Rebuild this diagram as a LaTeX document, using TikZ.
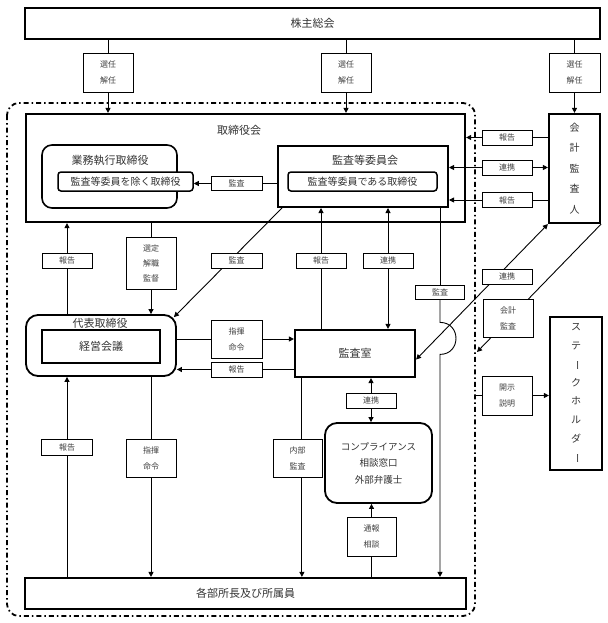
\documentclass[tikz,border=0pt]{standalone}
\usepackage{fontspec}
\setmainfont{Noto Sans CJK JP}
\usepackage{graphicx}
\usetikzlibrary{arrows.meta,calc}
\begin{document}
\begin{tikzpicture}[x=1pt,y=-1pt,
 every node/.style={text=black!80},
 arr/.style={-{Triangle[length=5pt,width=5pt]},line width=0.9pt},
 darr/.style={{Triangle[length=5pt,width=5pt]}-{Triangle[length=5pt,width=5pt]},line width=0.9pt},
 ln/.style={line width=0.9pt},
 bigbox/.style={draw,line width=2.2pt,inner sep=0pt},
 rbox/.style={draw,line width=1.8pt,rounded corners=12pt,inner sep=0pt},
 lbl/.style={draw,fill=white,line width=0.8pt,inner sep=0pt,align=center,font=\fontsize{8}{16}\selectfont,text=black!75},
 txt/.style={inner sep=0pt,font=\fontsize{11}{13}\selectfont},
 boundary/.style={line width=1.8pt,dash pattern=on 5pt off 3pt on 1.5pt off 3pt,rounded corners=12pt}
]
\useasboundingbox (0,0) rectangle (607,623);
\fill[white] (0,0) rectangle (607,623);

% company boundary
\draw[boundary] (7,103) rectangle (475,616);

% main boxes
\node[bigbox,minimum width=575pt,minimum height=31pt,font=\fontsize{11}{13}\selectfont] (soukai) at (312.5,23.5) {株主総会};

\node[bigbox,minimum width=439pt,minimum height=108pt] (tori) at (245.5,168) {};
\node[txt] (toriT) at (239,130) {取締役会};

\node[rbox,line width=1.6pt,rounded corners=10pt,minimum width=135pt,minimum height=63pt] (gyomu) at (109.5,176.5) {};
\node[txt] (gyomuT) at (110,160) {業務執行取締役};
\node[draw,line width=1.5pt,rounded corners=3pt,fill=white,minimum width=135pt,minimum height=19pt,inner sep=0pt,font=\fontsize{10}{12}\selectfont] (jogai) at (125.5,181.5) {監査等委員を除く取締役};

\node[bigbox,line width=2pt,minimum width=170pt,minimum height=61pt] (iinkai) at (363,176.5) {};
\node[txt] (iinkaiT) at (365,160) {監査等委員会};
\node[draw,line width=1.5pt,rounded corners=3pt,minimum width=149pt,minimum height=19pt,inner sep=0pt,font=\fontsize{10}{12}\selectfont] (iin) at (362.5,181.5) {監査等委員である取締役};

\node[bigbox,minimum width=51pt,minimum height=109pt,align=center,font=\fontsize{10}{20.5}\selectfont] (kaikei) at (574.5,168.5) {会\\計\\監\\査\\人};

\node[rbox,minimum width=150pt,minimum height=61pt] (daihyo) at (101,345.5) {};
\node[txt] (daihyoT) at (100,323) {代表取締役};
\node[bigbox,minimum width=118pt,minimum height=33pt,font=\fontsize{11}{13}\selectfont] (keiei) at (101,346.5) {経営会議};

\node[bigbox,minimum width=120pt,minimum height=47pt,font=\fontsize{11}{13}\selectfont] (shitsu) at (355,353.5) {監査室};

\node[rbox,minimum width=107pt,minimum height=80pt,align=center,font=\fontsize{9.5}{16.5}\selectfont] (comp) at (378.5,463) {コンプライアンス\\相談窓口\\外部弁護士};

\node[bigbox,minimum width=52pt,minimum height=153pt,align=center,font=\fontsize{10}{18.6}\selectfont] (stake) at (576,393.5) {ス\\テ\\\rotatebox[origin=c]{-90}{ー}\\ク\\ホ\\ル\\ダ\\\rotatebox[origin=c]{-90}{ー}};

\node[bigbox,minimum width=441pt,minimum height=31pt,font=\fontsize{11}{13}\selectfont] (kakubu) at (245.5,593.5) {各部所長及び所属員};

% 選任・解任
\node[lbl,minimum width=50pt,minimum height=39pt] (sen1) at (108,72.5) {選任\\解任};
\node[lbl,minimum width=50pt,minimum height=39pt] (sen2) at (346,72.5) {選任\\解任};
\node[lbl,minimum width=51pt,minimum height=39pt] (sen3) at (574.5,72.5) {選任\\解任};
\draw[ln] (sen1 |- soukai.south) -- (sen1.north);
\draw[arr] (sen1.south) -- (sen1 |- tori.north);
\draw[ln] (sen2 |- soukai.south) -- (sen2.north);
\draw[arr] (sen2.south) -- (sen2 |- tori.north);
\draw[ln] (sen3 |- soukai.south) -- (sen3.north);
\draw[arr] (sen3.south) -- (sen3 |- kaikei.north);

% 会計監査人 <-> 取締役会 / 監査等委員会
\node[lbl,minimum width=50pt,minimum height=15pt] (hk1) at (507,137.5) {報告};
\node[lbl,minimum width=50pt,minimum height=15pt] (rk1) at (507,167.5) {連携};
\node[lbl,minimum width=50pt,minimum height=15pt] (hk2) at (507,200) {報告};
\draw[ln] (hk1 -| kaikei.west) -- (hk1.east);
\draw[arr] (hk1.west) -- (hk1 -| tori.east);
\draw[arr] (rk1.east) -- (rk1 -| kaikei.west);
\draw[arr] (rk1.west) -- (rk1 -| iinkai.east);
\draw[ln] (hk2 -| kaikei.west) -- (hk2.east);
\draw[arr] (hk2.west) -- (hk2 -| iinkai.east);

% 監査 (委員会 -> 業務執行)
\node[lbl,minimum width=51pt,minimum height=14pt] (ks1) at (236.5,183.5) {監査};
\draw[ln] (ks1 -| iinkai.west) -- (ks1.east);
\draw[arr] (ks1.west) -- (ks1 -| jogai.east);

% 報告 (代表 -> 取締役会)
\node[lbl,minimum width=50pt,minimum height=15pt] (hk3) at (67,260.5) {報告};
\draw[ln] (hk3 |- daihyo.north) -- (hk3.south);
\draw[arr] (hk3.north) -- (hk3 |- tori.south);

% 選定・解職・監督
\node[lbl,minimum width=50pt,minimum height=52pt,font=\fontsize{8}{15}\selectfont] (sentei) at (151,263) {選定\\解職\\監督};
\draw[ln] (sentei |- tori.south) -- (sentei.north);
\draw[arr] (sentei.south) -- (sentei |- daihyo.north);

% 監査 diagonal (委員会 -> 代表)
\draw[arr] ($(iinkai.south west)+(5,0)$) -- ($(daihyo.north east)+(-3,3)$);
\node[lbl,minimum width=51pt,minimum height=15pt] (ks2) at (236.5,260.5) {監査};

% 指揮命令 / 報告 (代表 <-> 監査室)
\node[lbl,minimum width=51pt,minimum height=38pt] (shiki1) at (236.5,339) {指揮\\命令};
\draw[ln] (shiki1 -| daihyo.east) -- (shiki1.west);
\draw[arr] (shiki1.east) -- (shiki1 -| shitsu.west);
\node[lbl,minimum width=51pt,minimum height=15pt] (hk4) at (236.5,369.5) {報告};
\draw[ln] (hk4 -| shitsu.west) -- (hk4.east);
\draw[arr] (hk4.west) -- (hk4 -| daihyo.east);

% 報告 / 連携 (監査室 <-> 委員会)
\node[lbl,minimum width=50pt,minimum height=15pt] (hk5) at (321,260.5) {報告};
\draw[ln] (hk5 |- shitsu.north) -- (hk5.south);
\draw[arr] (hk5.north) -- (hk5 |- iinkai.south);
\node[lbl,minimum width=50pt,minimum height=15pt] (rk2) at (388,260.5) {連携};
\draw[arr] (rk2.north) -- (rk2 |- iinkai.south);
\draw[arr] (rk2.south) -- (rk2 |- shitsu.north);

% 監査 (委員会 -> 各部所), jumping the diagonal
\node[lbl,minimum width=49pt,minimum height=14pt] (ks3) at (440,292) {監査};
\draw[ln] (ks3 |- iinkai.south) -- (ks3.north);
\draw[arr] (ks3.south) -- ++(0,23) .. controls +(21.3,0) and +(21.3,0) .. ++(0,32) -- (ks3 |- kakubu.north);

% 連携 diagonal (会計監査人 <-> 監査室)
\draw[darr] (kaikei.south west) -- ($(shitsu.east)+(0,6)$);
\node[lbl,minimum width=50pt,minimum height=15pt] (rk3) at (507,276.5) {連携};

% 会計監査 diagonal
\coordinate (kb) at (477,352);
\draw[arr] (kaikei.south east) -- (kb);
\node[lbl,minimum width=50pt,minimum height=38pt] (kk) at (508,318) {会計\\監査};

% 開示説明
\coordinate (kd) at (475,395.5);
\node[lbl,minimum width=50pt,minimum height=39pt] (kaiji) at (507,395.5) {開示\\説明};
\draw[ln] (kd) -- (kaiji.west);
\draw[arr] (kaiji.east) -- (kaiji -| stake.west);

% lower part
\node[lbl,minimum width=51pt,minimum height=16pt] (hk6) at (67,447) {報告};
\draw[ln] (hk6 |- kakubu.north) -- (hk6.south);
\draw[arr] (hk6.north) -- (hk6 |- daihyo.south);

\node[lbl,minimum width=50pt,minimum height=38pt] (shiki2) at (151,458) {指揮\\命令};
\draw[ln] (shiki2 |- daihyo.south) -- (shiki2.north);
\draw[arr] (shiki2.south) -- (shiki2 |- kakubu.north);

\coordinate (nb) at ($(shitsu.south west)+(8,0)$);
\draw[arr] (nb) -- (nb |- kakubu.north);
\node[lbl,minimum width=49pt,minimum height=38pt] (naibu) at (297.5,458) {内部\\監査};

\node[lbl,minimum width=50pt,minimum height=15pt] (rk4) at (371,400.5) {連携};
\draw[arr] (rk4.north) -- (rk4 |- shitsu.south);
\draw[arr] (rk4.south) -- (rk4 |- comp.north);

\node[lbl,minimum width=49pt,minimum height=39pt] (tsuho) at (371.5,536.5) {通報\\相談};
\draw[ln] (tsuho |- kakubu.north) -- (tsuho.south);
\draw[arr] (tsuho.north) -- (tsuho |- comp.south);
\end{tikzpicture}
\end{document}
